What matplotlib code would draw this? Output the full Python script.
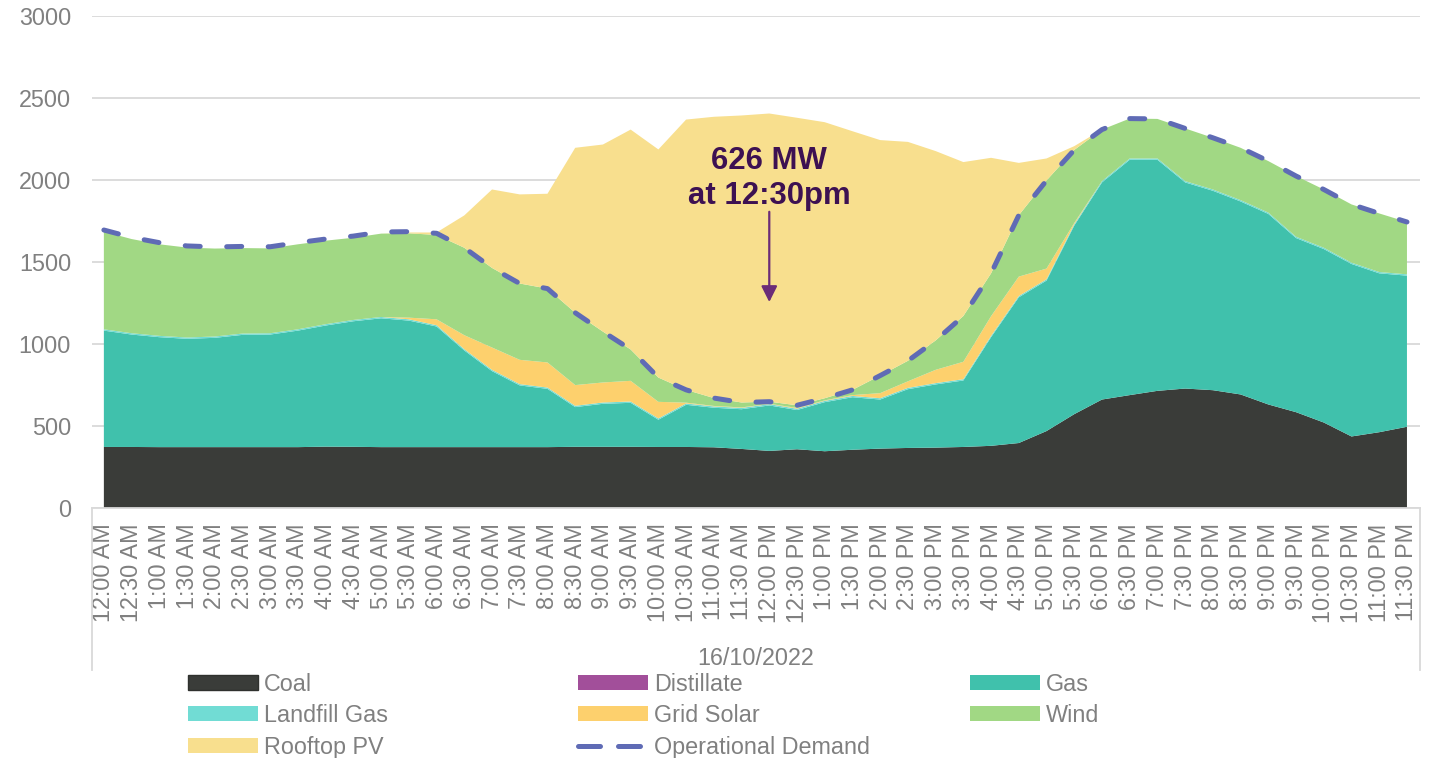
import numpy as np
import matplotlib.pyplot as plt
from matplotlib.patches import Patch
from matplotlib.lines import Line2D

plt.rcParams['font.family'] = ['Liberation Sans', 'DejaVu Sans']

# Half-hourly categories for 16/10/2022
times = []
for h in range(24):
    for m in (0, 30):
        times.append(f"{h % 12 or 12}:{m:02d} {'AM' if h < 12 else 'PM'}")
date_label = "16/10/2022"

# Generation by fuel type (MW)
coal = [372, 372, 371, 371, 371, 371, 371, 371, 374, 373, 371, 371,
        371, 371, 371, 371, 371, 373, 373, 373, 372, 372, 370, 360,
        348, 358, 346, 355, 362, 366, 368, 372, 379, 396, 469, 572,
        661, 688, 714, 728, 718, 692, 631, 584, 521, 436, 462, 495]
distillate = [0] * 48
gas = [709, 685, 670, 660, 666, 684, 686, 710, 738, 765, 785, 771,
       735, 589, 463, 376, 355, 242, 262, 268, 166, 257, 241, 242,
       277, 239, 299, 320, 299, 358, 385, 405, 662, 888, 917, 1149,
       1323, 1434, 1408, 1256, 1215, 1176, 1161, 1061, 1057, 1051, 968, 921]
landfill_gas = [8, 8, 8, 8, 8, 8, 8, 8, 8, 8, 8, 8,
                8, 8, 8, 8, 8, 8, 8, 8, 8, 8, 8, 8,
                8, 8, 8, 8, 8, 8, 8, 8, 8, 8, 8, 8,
                8, 8, 8, 8, 8, 8, 8, 8, 8, 8, 8, 8]
grid_solar = [0, 0, 0, 0, 0, 0, 0, 0, 0, 0, 0, 10,
              36, 85, 136, 148, 153, 126, 122, 126, 101, 5, 3, 3,
              2, 5, 3, 5, 31, 40, 81, 106, 120, 118, 65, 8,
              0, 0, 0, 0, 0, 0, 0, 0, 0, 0, 0, 0]
wind = [595, 574, 558, 548, 536, 521, 517, 518, 509, 501, 508, 514,
        514, 533, 485, 465, 450, 441, 310, 191, 148, 78, 48, 30,
        13, 16, 13, 32, 107, 125, 179, 279, 261, 374, 537, 445,
        314, 243, 241, 321, 315, 319, 314, 370, 355, 355, 357, 319]
rooftop_pv = [0, 0, 0, 0, 0, 0, 0, 0, 0, 0, 0, 5,
              15, 197, 478, 543, 578, 1005, 1140, 1340, 1390, 1647, 1714, 1749,
              1756, 1752, 1682, 1576, 1435, 1334, 1154, 938, 704, 319, 134, 23,
              0, 0, 0, 0, 0, 0, 0, 0, 0, 0, 0, 0]
demand = [1694, 1649, 1617, 1597, 1591, 1594, 1592, 1617, 1639, 1657, 1682, 1684,
          1674, 1586, 1463, 1368, 1337, 1190, 1075, 966, 795, 720, 670, 643,
          648, 626, 669, 720, 807, 897, 1021, 1170, 1430, 1784, 1996, 2182,
          2306, 2373, 2371, 2313, 2256, 2195, 2114, 2023, 1941, 1850, 1795, 1743]

names = ["Coal", "Distillate", "Gas", "Landfill Gas", "Grid Solar", "Wind", "Rooftop PV"]
colors = ["#3A3C39", "#A24F9A", "#40C1AC", "#71DCD4", "#FDD06D", "#A1D884", "#F8DF8E"]
demand_color = "#5F6BB5"
grey = "#808080"

fig = plt.figure(figsize=(14.3, 7.58), dpi=100)
ax = fig.add_axes([0.0643, 0.3298, 0.9287, 0.6495])

x = np.arange(len(times))
ax.stackplot(x, coal, distillate, gas, landfill_gas, grid_solar, wind, rooftop_pv,
             colors=colors, linewidth=0)
ax.plot(x, demand, color=demand_color, lw=3.6, ls=(0, (3.0, 5.3)),
        dash_capstyle="round")

ax.set_ylim(0, 3000)
ax.set_yticks(range(0, 3001, 500))
ax.set_xlim(-0.43, 47.47)
ax.set_xticks(x)
ax.set_xticklabels(times, rotation=90, va="top", ha="center")
ax.tick_params(axis="x", length=0, pad=11, labelsize=16.8, labelcolor=grey)
ax.tick_params(axis="y", length=0, pad=15, labelsize=16.8, labelcolor=grey)
ax.grid(axis="y", color="#D9D9D9", lw=1.3)
ax.set_axisbelow(True)
for side in ["top", "left", "right"]:
    ax.spines[side].set_visible(False)
ax.spines["bottom"].set_color("#D9D9D9")
ax.spines["bottom"].set_linewidth(1.3)

# category box edges and the date group label
for xe in (0, 1):
    ax.plot([xe, xe], [0, -0.329], transform=ax.transAxes, clip_on=False,
            color="#D9D9D9", lw=1.3)
fig.text(0.5287, 0.1318, date_label, ha="center", va="center",
         fontsize=16.8, color=grey)

# minimum demand callout
ax.annotate("", xy=(24, 1255), xytext=(24, 1805),
            arrowprops=dict(arrowstyle="-|>", color="#6B2C78", lw=1.6,
                            mutation_scale=24, shrinkA=0, shrinkB=0))
ax.text(24, 1808, "626 MW\nat 12:30pm", ha="center", va="bottom",
        fontsize=22.4, fontweight="bold", color="#3D1152", linespacing=1.25)

# legend, laid out in three columns like the original
def area_handle(i):
    edge = "#2F312E" if i == 0 else colors[i]
    return Patch(facecolor=colors[i], edgecolor=edge, lw=1.0 if i == 0 else 0, label=names[i])

demand_handle = Line2D([], [], color=demand_color, lw=3.6, ls=(0, (4.4, 3.6)),
                       dash_capstyle="round", label="Operational Demand")

columns = [
    ([area_handle(0), area_handle(3), area_handle(6)], 0.1315),
    ([area_handle(1), area_handle(4), demand_handle], 0.4042),
    ([area_handle(2), area_handle(5)], 0.6783),
]
for handles, xpos in columns:
    fig.legend(handles=handles, loc="upper left", bbox_to_anchor=(xpos, 0.1125),
               frameon=False, fontsize=16.8, labelcolor=grey, borderpad=0,
               borderaxespad=0, handlelength=3.0, handleheight=0.6,
               handletextpad=0.26, labelspacing=0.36)

fig.savefig("out.png", dpi=100)
